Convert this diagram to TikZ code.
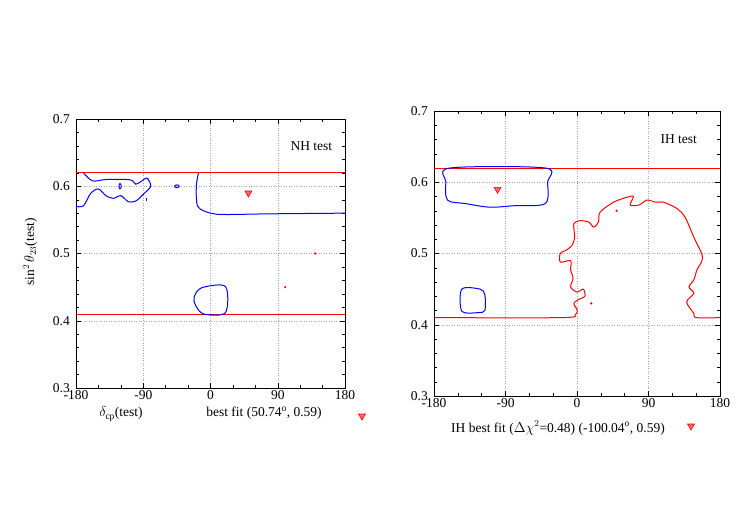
\documentclass[tikz,border=0pt]{standalone}
\usepackage{fontspec}
\setmainfont{Liberation Serif}
\usetikzlibrary{shapes.geometric}

\tikzset{
  frame/.style={draw, line width=0.8pt},
  gridline/.style={gray!70, dotted, line width=0.5pt},
  bluecont/.style={blue, line width=1pt},
  redcont/.style={red, line width=1pt},
  tri/.style={regular polygon, regular polygon sides=3, shape border rotate=180, draw=red, fill=red!60, inner sep=0pt, minimum size=8pt, line width=0.6pt},
  reddot/.style={circle, fill=red, inner sep=0pt, minimum size=2.5pt},
  lab/.style={font=\fontsize{13.5}{16}\selectfont},
}

% frame, grid and ticks of one panel, in data coordinates
\newcommand\panelaxes{%
  \foreach \d in {-90,0,90} \draw[gridline] (\d,0.3) -- (\d,0.7);
  \foreach \s in {0.4,0.5,0.6} \draw[gridline] (-180,\s) -- (180,\s);
  \foreach \d in {-150,-120,...,150} {
    \draw (\d,0.3) -- ++(0,3pt); \draw (\d,0.7) -- ++(0,-3pt);
  }
  \foreach \d in {-90,0,90} {
    \draw (\d,0.3) -- ++(0,5pt); \draw (\d,0.7) -- ++(0,-5pt);
  }
  \foreach \s in {0.32,0.34,...,0.69} {
    \draw (-180,\s) -- ++(3pt,0); \draw (180,\s) -- ++(-3pt,0);
  }
  \foreach \s in {0.4,0.5,0.6} {
    \draw (-180,\s) -- ++(5pt,0); \draw (180,\s) -- ++(-5pt,0);
  }
  \foreach \d in {-180,-90,0,90,180} \node[lab, below, inner sep=2pt] at (\d,0.3) {\d};
  \foreach \s in {0.3,0.4,0.5,0.6,0.7} \node[lab, left, inner sep=6pt] at (-180,\s) {\s};
  \draw[frame] (-180,0.3) rectangle (180,0.7);
}

\begin{document}
\begin{tikzpicture}
\useasboundingbox (0,0) rectangle (747pt,-523pt);

% --- NH panel ---
\begin{scope}[shift={(210.5pt,-589.75pt)}, x=0.7472pt, y=672.5pt]
  \panelaxes
  \draw[redcont] (-180,0.62) -- (180,0.62);
  \draw[redcont] (-180,0.41) -- (180,0.41);
  \draw[bluecont] plot[smooth] coordinates {(-180,0.57) (-170,0.571) (-160,0.59) (-150,0.596)
    (-140,0.586) (-130,0.582) (-120,0.586) (-110,0.577) (-100,0.578) (-90,0.588) (-80,0.6)
    (-85,0.612) (-93,0.607) (-100,0.603) (-104,0.608) (-112,0.61) (-140,0.61) (-158,0.608)
    (-170,0.62)};
  \draw[bluecont] (-121,0.6) ellipse (1.5 and 0.004);
  \draw[bluecont] (-45,0.6) ellipse (3 and 0.002);
  \draw[bluecont] (-86,0.578) -- (-86,0.583);
  \draw[bluecont] plot[smooth] coordinates {(-16,0.62) (-19,0.6) (-17,0.57) (0,0.56)
    (20,0.558) (80,0.559) (180,0.56)};
  \draw[bluecont] plot[smooth cycle] coordinates {(-22,0.435) (-12,0.449) (20,0.451)
    (20,0.412) (-9,0.41) (-20,0.423)};
  \node[reddot] (dotA) at (140,0.5) {};
  \node[reddot] (dotB) at (100,0.45) {};
  \node[tri] (bfNH) at (50.74,0.59) {};
  \node[lab] (nhlab) at (135,0.66) {NH test};
\end{scope}
\node[rotate=90, lab] (ylab) at (30pt,-252pt) {sin$^2\,\theta_{23}$(test)};
\node[lab] (xlab) at (121pt,-414pt) {$\delta_{\mathrm{cp}}$(test)};
\node[lab] (bflabNH) at (264pt,-413pt) {best fit (50.74$^{\mathrm{o}}$, 0.59)};
\node[tri] (bfkeyNH) at (362pt,-416pt) {};

% --- IH panel ---
\begin{scope}[shift={(577pt,-609.75pt)}, x=0.7944pt, y=712.5pt]
  \panelaxes
  \draw[redcont] (-180,0.62) -- (180,0.62);
  \draw[redcont] plot[smooth] coordinates {(-180,0.41) (-19,0.41) (-2,0.414) (0,0.421)
    (-4,0.43) (3,0.436) (10,0.44) (8,0.45) (0,0.446) (-8,0.453) (-5,0.465) (-8,0.477)
    (-8,0.49) (-21,0.488) (-21,0.5) (-13,0.505) (-6,0.512) (-3,0.523) (-4,0.542) (4,0.546)
    (15,0.544) (21,0.537) (27,0.544) (29,0.558) (46,0.572) (63,0.579) (71,0.58) (67,0.568)
    (78,0.568) (88,0.575) (99,0.572) (109,0.572) (126,0.563) (136,0.551) (147,0.523)
    (158,0.495) (151,0.477) (147,0.463) (141,0.453) (147,0.444) (138,0.432) (147,0.416)
    (150,0.41) (180,0.41)};
  \draw[bluecont] plot[smooth cycle] coordinates {(-160,0.62) (-40,0.62) (-37,0.6)
    (-40,0.57) (-80,0.567) (-110,0.565) (-140,0.57) (-163,0.575) (-165,0.6)};
  \draw[bluecont] plot[smooth cycle] coordinates {(-145,0.45) (-122,0.45) (-116,0.442)
    (-116,0.42) (-125,0.417) (-145,0.419)};
  \node[reddot] (dotC) at (50,0.56) {};
  \node[reddot] (dotD) at (18,0.43) {};
  \node[tri] (bfIH) at (-100.04,0.59) {};
  \node[lab] (ihlab) at (128,0.66) {IH test};
\end{scope}
\node[lab] (bflabIH) at (558pt,-428pt) {IH best fit ($\Delta\chi^2$=0.48) (-100.04$^{\mathrm{o}}$, 0.59)};
\node[tri] (bfkeyIH) at (691pt,-426pt) {};
\end{tikzpicture}
\end{document}
